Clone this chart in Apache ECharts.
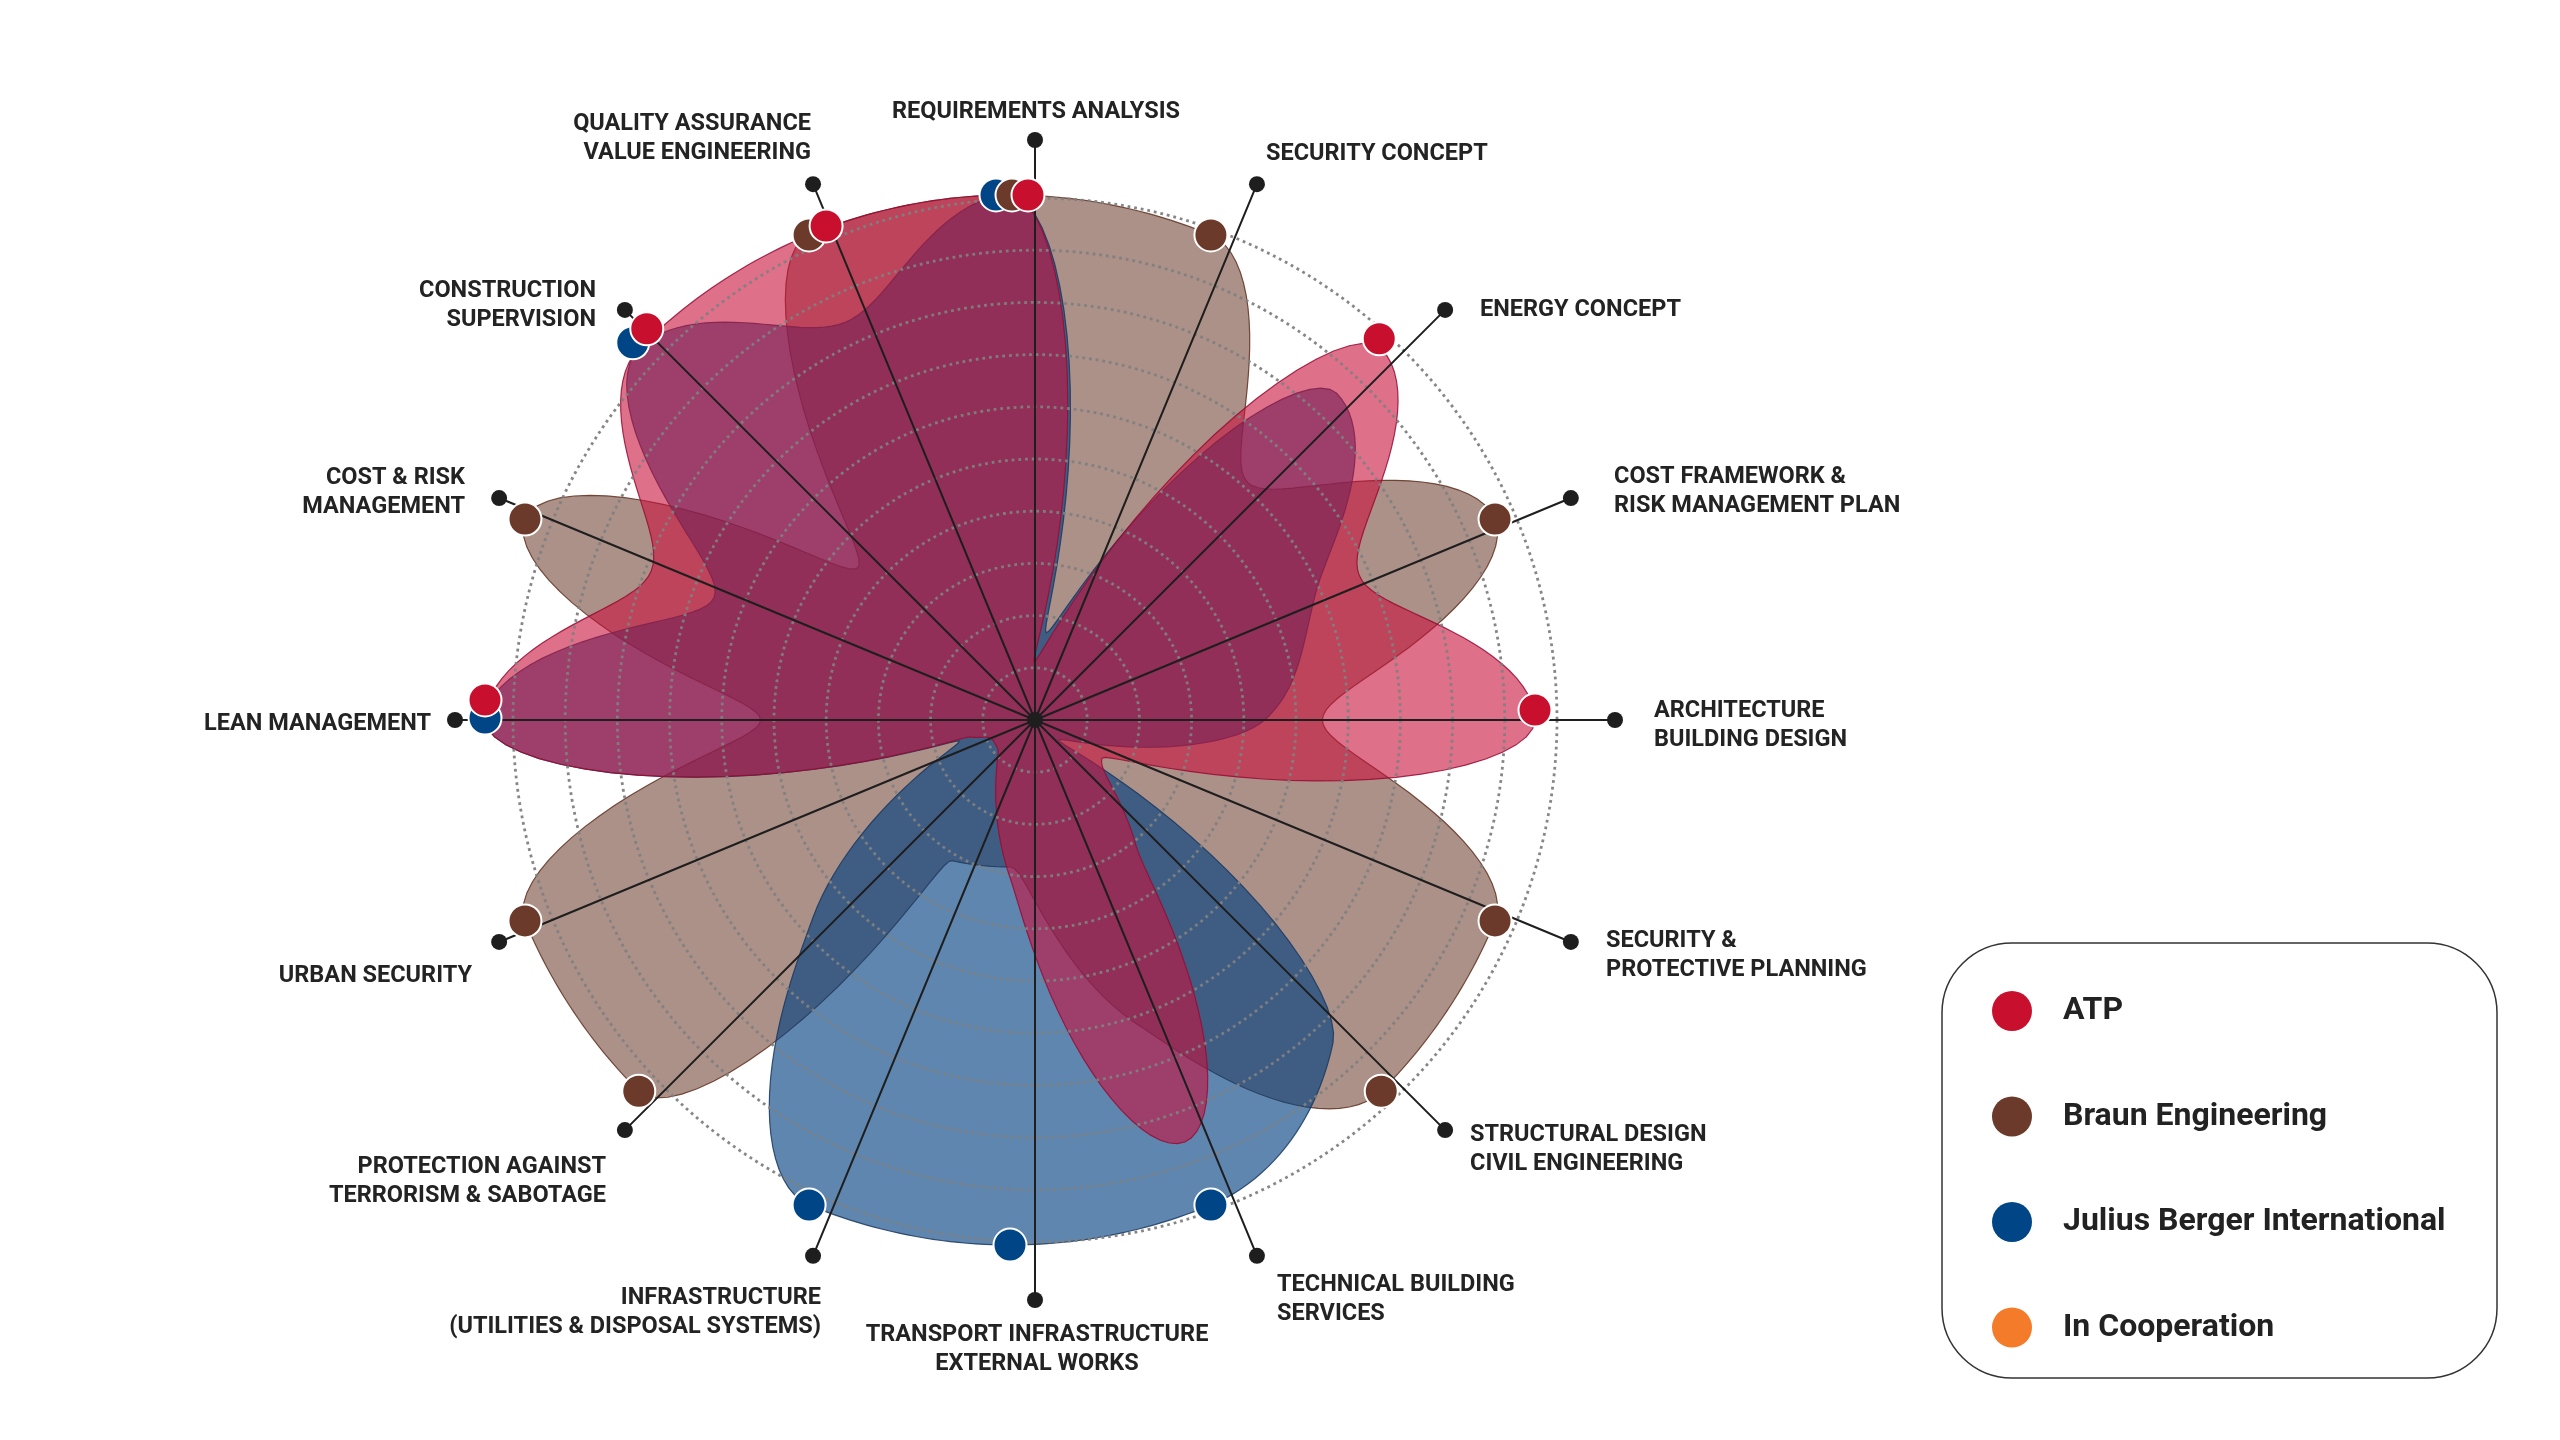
<!DOCTYPE html>
<html>
<head>
<meta charset="utf-8">
<script src="https://cdn.jsdelivr.net/npm/echarts@6/dist/echarts.min.js"></script>
<style>
html,body{margin:0;padding:0;background:#ffffff;}
#chart{width:2560px;height:1440px;}
</style>
</head>
<body>
<div id="chart"></div>
<script>
// ---------------- DATA ----------------
const categories = [
  'REQUIREMENTS ANALYSIS',
  'SECURITY CONCEPT',
  'ENERGY CONCEPT',
  'COST FRAMEWORK &\nRISK MANAGEMENT PLAN',
  'ARCHITECTURE\nBUILDING DESIGN',
  'SECURITY &\nPROTECTIVE PLANNING',
  'STRUCTURAL DESIGN\nCIVIL ENGINEERING',
  'TECHNICAL BUILDING\nSERVICES',
  'TRANSPORT INFRASTRUCTURE\nEXTERNAL WORKS',
  'INFRASTRUCTURE\n(UTILITIES & DISPOSAL SYSTEMS)',
  'PROTECTION AGAINST\nTERRORISM & SABOTAGE',
  'URBAN SECURITY',
  'LEAN MANAGEMENT',
  'COST & RISK\nMANAGEMENT',
  'CONSTRUCTION\nSUPERVISION',
  'QUALITY ASSURANCE\nVALUE ENGINEERING'
];
const seriesNames = ['ATP', 'Braun Engineering', 'Julius Berger International', 'In Cooperation'];
const atpValues   = [10, 1.2, 10, 7.2, 10, 1.9, 3.4, 8.7, 3.0, 0.6, 0.5, 0.85, 10, 7.4, 10, 10];
const braunValues = [10, 10, 6.4, 10, 5.95, 10, 10, 6.25, 2.8, 2.9, 10, 10, 4.75, 10, 4.1, 10];
const jbiValues   = [10, 1.8, 8.8, 6.3, 4.85, 1.0, 8.7, 10, 10, 10, 5.3, 1.05, 10, 6.1, 10, 8.2];
const coopValues  = [];
const fullScore = 10;
const ringTicks = [0, 1, 2, 3, 4, 5, 6, 7, 8, 9, 10];

// ---------------- STYLE / LAYOUT ----------------
const colors = {atp: '#c8102e', braun: '#6b3a2a', jbi: '#004585', coop: '#f47b2a'};
const axisCenter = [1035, 720];
const dataCenter = [1010, 720];
const ringRadius = 522;
const spokeRadius = 580;
const dataRadius = 577.5;   // radius of value 11
const step = 360 / categories.length;
const curveSamples = 24;
const labelFont = 'bold 23.5px Roboto, "Open Sans", sans-serif';
const labelLayout = [
  {x: 1036, y: 112, align: 'center'},
  {x: 1266, y: 154, align: 'left'},
  {x: 1480, y: 310, align: 'left'},
  {x: 1614, y: 492, align: 'left'},
  {x: 1654, y: 726, align: 'left'},
  {x: 1606, y: 956, align: 'left'},
  {x: 1470, y: 1150, align: 'left'},
  {x: 1277, y: 1300, align: 'left'},
  {x: 1037, y: 1350, align: 'center'},
  {x: 821, y: 1313, align: 'right'},
  {x: 606, y: 1182, align: 'right'},
  {x: 472, y: 976, align: 'right'},
  {x: 431, y: 724, align: 'right'},
  {x: 465, y: 493, align: 'right'},
  {x: 596, y: 306, align: 'right'},
  {x: 811, y: 139, align: 'right'}
];
// marker nudges so overlapping dots stay visible
const atpOffsets = {0: [18, 0], 2: [-2, -10], 4: [0, -10], 12: [0, -20], 14: [8, -20], 15: [17, -9]};
const braunOffsets = {0: [2, 0]};
const jbiOffsets = {0: [-14, 0], 14: [-6, -6], 12: [0, -2]};

const chart = echarts.init(document.getElementById('chart'), null, {renderer: 'canvas'});

// closed monotone cubic of radius against angle, mapped through the polar scales
function slope(a, b, c) {
  const dp = b - a, dn = c - b;
  return dp * dn > 0 ? 2 * dp * dn / (dp + dn) : 0;
}
function curvePoints(values, api) {
  const n = values.length, pts = [];
  for (let i = 0; i < n; i++) {
    const p0 = values[(i - 1 + n) % n], p1 = values[i], p2 = values[(i + 1) % n], p3 = values[(i + 2) % n];
    const m1 = slope(p0, p1, p2), m2 = slope(p1, p2, p3);
    for (let k = 0; k < curveSamples; k++) {
      const t = k / curveSamples, t2 = t * t, t3 = t2 * t;
      const r = (2 * t3 - 3 * t2 + 1) * p1 + (t3 - 2 * t2 + t) * m1 + (-2 * t3 + 3 * t2) * p2 + (t3 - t2) * m2;
      pts.push(api.coord([Math.max(0, r), (i + t) * step]));
    }
  }
  return pts;
}
function fillSeries(name, values, fill, stroke) {
  return {
    name: name, type: 'custom', coordinateSystem: 'polar', polarIndex: 2,
    z: 2, silent: true, data: [[0, 0]],
    renderItem: function (params, api) {
      return {
        type: 'polygon',
        shape: {points: curvePoints(values, api)},
        style: {fill: fill, stroke: stroke, lineWidth: 1.2}
      };
    }
  };
}
function markerSeries(name, values, color, offsets) {
  const data = [];
  values.forEach(function (v, i) {
    if (v >= fullScore) data.push({value: [v, i * step], symbolOffset: offsets[i] || [0, 0]});
  });
  return {
    name: name, type: 'scatter', coordinateSystem: 'polar', polarIndex: 2,
    symbol: 'circle', symbolSize: 33, z: 13, silent: true, data: data,
    itemStyle: {color: color, borderColor: '#ffffff', borderWidth: 2, opacity: 1}
  };
}

const hiddenAxis = {axisLine: {show: false}, axisTick: {show: false}, axisLabel: {show: false}, splitLine: {show: false}, splitArea: {show: false}};

const option = {
  backgroundColor: '#ffffff',
  animation: false,
  polar: [
    {center: axisCenter, radius: ringRadius},
    {center: axisCenter, radius: spokeRadius},
    {center: dataCenter, radius: dataRadius}
  ],
  radiusAxis: [
    Object.assign({}, hiddenAxis, {
      polarIndex: 0, type: 'value', min: ringTicks[0], max: ringTicks[ringTicks.length - 1], interval: 1, z: 10,
      splitLine: {show: true, lineStyle: {color: 'rgba(128,128,128,0.95)', width: 2.8, type: [2.8, 3.9]}}
    }),
    Object.assign({}, hiddenAxis, {polarIndex: 1, type: 'value', min: 0, max: 1}),
    Object.assign({}, hiddenAxis, {polarIndex: 2, type: 'value', min: 0, max: 11})
  ],
  angleAxis: [
    Object.assign({}, hiddenAxis, {polarIndex: 0, type: 'value', min: 0, max: 360, startAngle: 90}),
    Object.assign({}, hiddenAxis, {
      polarIndex: 1, type: 'value', min: 0, max: 360, interval: step, startAngle: 90, clockwise: true, z: 11,
      splitLine: {show: true, lineStyle: {color: '#1e1e1e', width: 2}}
    }),
    Object.assign({}, hiddenAxis, {polarIndex: 2, type: 'value', min: 0, max: 360, startAngle: 90, clockwise: true})
  ],
  legend: {
    orient: 'vertical', left: 1992, top: 991, padding: 0,
    itemWidth: 92, itemHeight: 40, itemGap: 65.5, icon: 'circle', selectedMode: false,
    textStyle: {fontFamily: 'Roboto, "Open Sans", sans-serif', fontWeight: 'bold', fontSize: 32, color: '#222222'},
    data: [
      {name: seriesNames[0], itemStyle: {color: colors.atp, borderWidth: 0, opacity: 1}},
      {name: seriesNames[1], itemStyle: {color: colors.braun, borderWidth: 0, opacity: 1}},
      {name: seriesNames[2], itemStyle: {color: colors.jbi, borderWidth: 0, opacity: 1}},
      {name: seriesNames[3], itemStyle: {color: colors.coop, borderWidth: 0, opacity: 1}}
    ]
  },
  graphic: [
    {type: 'rect', z: 1, silent: true,
     shape: {x: 1942, y: 943, width: 555, height: 435, r: 70},
     style: {fill: 'none', stroke: '#333333', lineWidth: 1.5}}
  ].concat(categories.map(function (c, i) {
    const l = labelLayout[i];
    return {
      type: 'text', z: 20, silent: true, x: l.x, y: l.y,
      style: {
        text: c, font: labelFont, fill: '#232323', lineHeight: 29,
        align: l.align, verticalAlign: 'middle', textAlign: l.align, textVerticalAlign: 'middle'
      }
    };
  })),
  series: [
    fillSeries(seriesNames[1], braunValues, 'rgba(107,58,42,0.56)', 'rgba(95,48,32,0.85)'),
    fillSeries(seriesNames[2], jbiValues, 'rgba(0,64,128,0.63)', 'rgba(25,55,95,0.85)'),
    fillSeries(seriesNames[0], atpValues, 'rgba(200,16,60,0.6)', 'rgba(150,12,50,0.85)'),
    {
      name: 'axis-ends', type: 'scatter', coordinateSystem: 'polar', polarIndex: 1,
      symbol: 'circle', symbolSize: 16, z: 12, silent: true,
      itemStyle: {color: '#1e1e1e', opacity: 1},
      data: categories.map(function (c, i) { return [1, i * step]; }).concat([[0, 0]])
    },
    markerSeries(seriesNames[2], jbiValues, colors.jbi, jbiOffsets),
    markerSeries(seriesNames[1], braunValues, colors.braun, braunOffsets),
    markerSeries(seriesNames[0], atpValues, colors.atp, atpOffsets),
    {name: seriesNames[3], type: 'scatter', coordinateSystem: 'polar', polarIndex: 2, data: coopValues,
     itemStyle: {color: colors.coop, opacity: 1}}
  ]
};
chart.setOption(option);
</script>
</body>
</html>
